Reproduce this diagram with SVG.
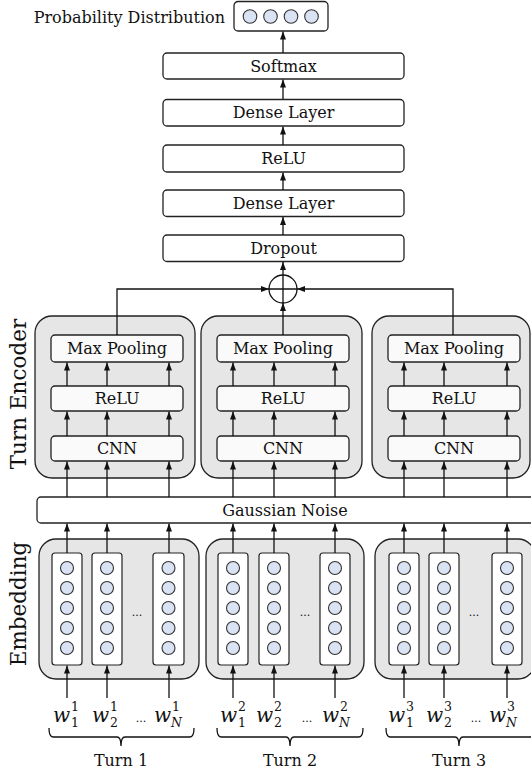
<svg xmlns="http://www.w3.org/2000/svg" width="531" height="773" viewBox="0 0 531 773">
<style>
text{font-family:"DejaVu Serif","Liberation Serif",serif;fill:#111;}
.t{font-size:16px;text-anchor:middle;}
.side{font-size:21.5px;text-anchor:middle;}
.box{fill:#fff;stroke:#222;stroke-width:1.3;}
.inner{fill:#fafafa;stroke:#222;stroke-width:1.3;}
.grp{fill:#e6e6e6;stroke:#222;stroke-width:1.3;}
.col{fill:#fff;stroke:#222;stroke-width:1.2;}
.dot{fill:#dae3f3;stroke:#333;stroke-width:1.1;}
.ln{fill:none;stroke:#111;stroke-width:1.3;}
.ar{fill:none;stroke:#111;stroke-width:1.3;marker-end:url(#ah);}
.w{font-size:20px;font-style:italic;}
.s{font-size:12.5px;}
.si{font-size:12.5px;font-style:italic;}
.dots{font-size:11px;text-anchor:middle;}
</style>
<defs>
<marker id="ah" markerUnits="userSpaceOnUse" markerWidth="8" markerHeight="8" viewBox="0 0 8 8" refX="8" refY="4" orient="auto">
<path d="M0,1 L8,4 L0,7 Z" fill="#111"/>
</marker>
</defs>

<g id="side-labels">
<text class="side" transform="translate(26,394) rotate(-90)">Turn Encoder</text>
<text class="side" transform="translate(26,604) rotate(-90)">Embedding</text>
</g>

<g id="prob">
<text x="225" y="23" style="font-size:16px;text-anchor:end">Probability Distribution</text>
<rect class="box" x="234" y="1.5" width="94" height="29.5" rx="4"/>
<circle class="dot" cx="250" cy="16.5" r="6.8"/>
<circle class="dot" cx="270.5" cy="16.5" r="6.8"/>
<circle class="dot" cx="291" cy="16.5" r="6.8"/>
<circle class="dot" cx="311.5" cy="16.5" r="6.8"/>
</g>
<g id="softmax"><rect class="box" x="163" y="53" width="241" height="26" rx="4"/><text class="t" x="283.5" y="71.5">Softmax</text></g>
<g id="dense2"><rect class="box" x="163" y="99.5" width="241" height="26.5" rx="4"/><text class="t" x="283.5" y="118">Dense Layer</text></g>
<g id="relu-top"><rect class="box" x="163" y="145" width="241" height="27" rx="4"/><text class="t" x="283.5" y="164">ReLU</text></g>
<g id="dense1"><rect class="box" x="163" y="190" width="241" height="26.5" rx="4"/><text class="t" x="283.5" y="209">Dense Layer</text></g>
<g id="dropout"><rect class="box" x="163" y="235" width="241" height="26.5" rx="4"/><text class="t" x="283.5" y="254">Dropout</text></g>

<g id="sum">
<circle cx="283" cy="289" r="14" fill="#fff" stroke="#111" stroke-width="1.3"/>
<path class="ln" d="M269,289 H297 M283,275 V303"/>
</g>

<g id="encoder1">
<rect class="grp" x="35" y="316" width="160" height="162" rx="17"/>
<rect class="inner" x="51" y="335" width="132" height="27" rx="4"/><text class="t" x="117" y="354">Max Pooling</text>
<rect class="inner" x="51" y="386" width="132" height="25" rx="4"/><text class="t" x="117" y="404">ReLU</text>
<rect class="inner" x="51" y="436" width="132" height="25" rx="4"/><text class="t" x="117" y="454">CNN</text>
</g>
<g id="encoder2">
<rect class="grp" x="201" y="316" width="161" height="162" rx="17"/>
<rect class="inner" x="217" y="335" width="132" height="27" rx="4"/><text class="t" x="283" y="354">Max Pooling</text>
<rect class="inner" x="217" y="386" width="132" height="25" rx="4"/><text class="t" x="283" y="404">ReLU</text>
<rect class="inner" x="217" y="436" width="132" height="25" rx="4"/><text class="t" x="283" y="454">CNN</text>
</g>
<g id="encoder3">
<rect class="grp" x="372" y="316" width="158" height="162" rx="17"/>
<rect class="inner" x="388" y="335" width="132" height="27" rx="4"/><text class="t" x="454" y="354">Max Pooling</text>
<rect class="inner" x="388" y="386" width="132" height="25" rx="4"/><text class="t" x="454" y="404">ReLU</text>
<rect class="inner" x="388" y="436" width="132" height="25" rx="4"/><text class="t" x="454" y="454">CNN</text>
</g>

<g id="gaussian">
<rect class="box" x="37" y="497" width="500" height="26" rx="4"/><text class="t" x="285" y="516">Gaussian Noise</text>
</g>

<g id="embedding1">
<rect class="grp" x="39" y="539" width="160" height="140" rx="17"/>
<rect class="col" x="52" y="553" width="30" height="112" rx="3"/>
<rect class="col" x="92" y="553" width="30" height="112" rx="3"/>
<rect class="col" x="153" y="553" width="31" height="112" rx="3"/>
<g id="e1c">
<circle class="dot" cx="67" cy="568" r="6.5"/><circle class="dot" cx="67" cy="588" r="6.5"/><circle class="dot" cx="67" cy="608" r="6.5"/><circle class="dot" cx="67" cy="628" r="6.5"/><circle class="dot" cx="67" cy="648" r="6.5"/>
</g>
<use href="#e1c" x="40"/>
<use href="#e1c" x="101.5"/>
<text class="dots" x="137" y="616">...</text>
</g>
<g id="embedding2">
<rect class="grp" x="206" y="539" width="158" height="140" rx="17"/>
<rect class="col" x="218" y="553" width="30" height="112" rx="3"/>
<rect class="col" x="259" y="553" width="30" height="112" rx="3"/>
<rect class="col" x="320" y="553" width="30" height="112" rx="3"/>
<use href="#e1c" x="166"/>
<use href="#e1c" x="207"/>
<use href="#e1c" x="268"/>
<text class="dots" x="305" y="616">...</text>
</g>
<g id="embedding3">
<rect class="grp" x="375" y="539" width="160" height="140" rx="17"/>
<rect class="col" x="389" y="553" width="30" height="112" rx="3"/>
<rect class="col" x="429" y="553" width="30" height="112" rx="3"/>
<rect class="col" x="492" y="553" width="30" height="112" rx="3"/>
<use href="#e1c" x="337"/>
<use href="#e1c" x="377"/>
<use href="#e1c" x="440"/>
<text class="dots" x="474" y="616">...</text>
</g>

<g id="connectors">
<path class="ar" d="M283,53 V31.5"/>
<path class="ar" d="M283,99 V79.5"/>
<path class="ar" d="M283,145 V126.5"/>
<path class="ar" d="M283,190 V172.5"/>
<path class="ar" d="M283,235 V217"/>
<path class="ar" d="M283,275 V262"/>
<path class="ar" d="M283,335 V303"/>
<path class="ar" d="M117,335 V289 H269"/>
<path class="ar" d="M453,335 V289 H297"/>
<path class="ar" d="M67,386 V362.5"/><path class="ar" d="M107,386 V362.5"/><path class="ar" d="M169,386 V362.5"/>
<path class="ar" d="M67,436 V411.5"/><path class="ar" d="M107,436 V411.5"/><path class="ar" d="M169,436 V411.5"/>
<path class="ar" d="M67,497 V461.5"/><path class="ar" d="M107,497 V461.5"/><path class="ar" d="M169,497 V461.5"/>
<path class="ar" d="M233,386 V362.5"/><path class="ar" d="M274,386 V362.5"/><path class="ar" d="M335,386 V362.5"/>
<path class="ar" d="M233,436 V411.5"/><path class="ar" d="M274,436 V411.5"/><path class="ar" d="M335,436 V411.5"/>
<path class="ar" d="M233,497 V461.5"/><path class="ar" d="M274,497 V461.5"/><path class="ar" d="M335,497 V461.5"/>
<path class="ar" d="M404,386 V362.5"/><path class="ar" d="M444,386 V362.5"/><path class="ar" d="M507,386 V362.5"/>
<path class="ar" d="M404,436 V411.5"/><path class="ar" d="M444,436 V411.5"/><path class="ar" d="M507,436 V411.5"/>
<path class="ar" d="M404,497 V461.5"/><path class="ar" d="M444,497 V461.5"/><path class="ar" d="M507,497 V461.5"/>
<path class="ar" d="M67,553 V523.5"/><path class="ar" d="M107,553 V523.5"/><path class="ar" d="M169,553 V523.5"/>
<path class="ar" d="M233,553 V523.5"/><path class="ar" d="M274,553 V523.5"/><path class="ar" d="M335,553 V523.5"/>
<path class="ar" d="M404,553 V523.5"/><path class="ar" d="M444,553 V523.5"/><path class="ar" d="M507,553 V523.5"/>
<path class="ar" d="M67,698 V665.5"/><path class="ar" d="M107,698 V665.5"/><path class="ar" d="M169,698 V665.5"/>
<path class="ar" d="M233,698 V665.5"/><path class="ar" d="M274,698 V665.5"/><path class="ar" d="M335,698 V665.5"/>
<path class="ar" d="M404,698 V665.5"/><path class="ar" d="M444,698 V665.5"/><path class="ar" d="M507,698 V665.5"/>
</g>

<g id="words">
<text class="w" x="53" y="722">w</text><text class="s" x="71" y="711">1</text><text class="s" x="71" y="727">1</text>
<text class="w" x="92" y="722">w</text><text class="s" x="110" y="711">1</text><text class="s" x="110" y="727">2</text>
<text class="dots" x="141" y="722">...</text>
<text class="w" x="154" y="722">w</text><text class="s" x="172" y="711">1</text><text class="si" x="171" y="727">N</text>

<text class="w" x="220" y="722">w</text><text class="s" x="238" y="711">2</text><text class="s" x="238" y="727">1</text>
<text class="w" x="256" y="722">w</text><text class="s" x="274" y="711">2</text><text class="s" x="274" y="727">2</text>
<text class="dots" x="307" y="722">...</text>
<text class="w" x="322" y="722">w</text><text class="s" x="340" y="711">2</text><text class="si" x="339" y="727">N</text>

<text class="w" x="388" y="722">w</text><text class="s" x="406" y="711">3</text><text class="s" x="406" y="727">1</text>
<text class="w" x="426" y="722">w</text><text class="s" x="444" y="711">3</text><text class="s" x="444" y="727">2</text>
<text class="dots" x="476" y="722">...</text>
<text class="w" x="489" y="722">w</text><text class="s" x="507" y="711">3</text><text class="si" x="506" y="727">N</text>
</g>

<g id="turns">
<path class="ln" d="M49,728 Q49,737 53,737 H117 Q121,737 121,746 Q121,737 125,737 H190 Q194,737 194,728"/>
<path class="ln" d="M217,728 Q217,737 221,737 H286 Q290,737 290,746 Q290,737 294,737 H359 Q363,737 363,728"/>
<path class="ln" d="M386,728 Q386,737 390,737 H455 Q459,737 459,746 Q459,737 463,737 H540"/>
<text class="t" x="121" y="766">Turn 1</text>
<text class="t" x="290" y="766">Turn 2</text>
<text class="t" x="459" y="766">Turn 3</text>
</g>
</svg>
